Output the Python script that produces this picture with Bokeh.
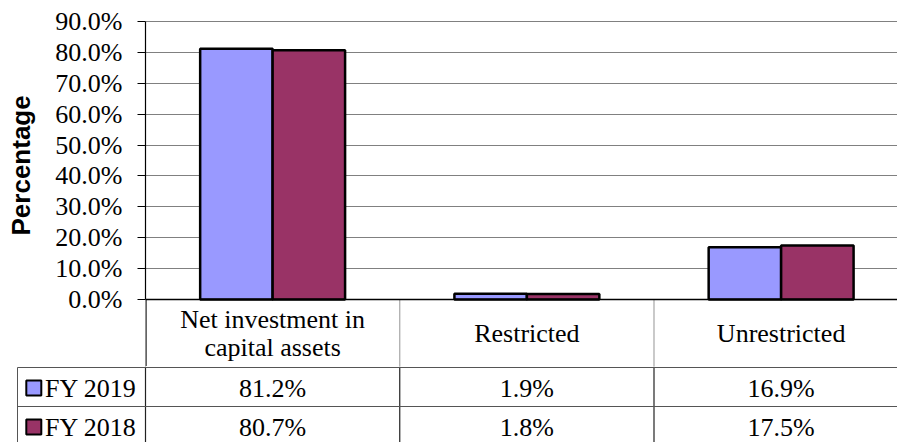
from bokeh.plotting import figure
from bokeh.models import (Range1d, FixedTicker, PrintfTickFormatter, Span, ColumnDataSource,
                          Title, LinearAxis)
from bokeh.embed import file_html
from bokeh.resources import INLINE
from bokeh.core.properties import value

# ---------------- data ----------------
categories = ["Net investment in\ncapital assets", "Restricted", "Unrestricted"]
series_names = ["FY 2019", "FY 2018"]
fy2019 = [81.2, 1.9, 16.9]
fy2018 = [80.7, 1.8, 17.5]
series_values = [fy2019, fy2018]
colors = ["#9999FF", "#993366"]
y_ticks = [0, 10, 20, 30, 40, 50, 60, 70, 80, 90]
y_title = "Percentage"

# ---------------- layout constants (pixels) ----------------
W = 897
LEFT = 145            # chart frame left
BAND = 254.25         # width of one category band in px
PX_PER_PCT = 278 / 90.0
ZERO_Y = 299          # page y of the 0% line
TOP_Y = 20            # page y of the chart frame top
A_H = 366             # chart canvas height (includes the category-label row)
B_H = 442 - A_H       # data-table canvas height
CAT_ROW_CENTER = 333
DATA_ROW_H = 39
BAR_W = 0.285
TITLE_GAP = 17        # extra gap between tick labels and the vertical title
TITLE_BOTTOM = 235    # page y where the vertical title starts

SERIF = "Liberation Serif"
SANS = "Liberation Sans"

def px_to_u(px):
    return (px - LEFT) / BAND

def page_to_pct(py):
    return (ZERO_Y - py) / PX_PER_PCT

x_end = (W - LEFT) / BAND
ncat = len(categories)
n = len(series_names)

# ---------------- chart (with category row) ----------------
p = figure(width=W, height=A_H, output_backend="svg", toolbar_location=None,
           x_range=Range1d(0, x_end),
           y_range=Range1d(page_to_pct(A_H), page_to_pct(TOP_Y)),
           x_axis_location=None,
           min_border_left=LEFT, min_border_right=0, min_border_top=TOP_Y, min_border_bottom=0)
p.outline_line_color = None
p.background_fill_color = "white"
p.border_fill_color = "white"

for s, (name, vals, col) in enumerate(zip(series_names, series_values, colors)):
    xs = [i + 0.5 + (s - (n - 1) / 2) * BAR_W for i in range(ncat)]
    src = ColumnDataSource(dict(x=xs, top=vals))
    p.vbar(x="x", top="top", bottom=0, width=BAR_W, source=src,
           fill_color=col, line_color="black", line_width=2.5)

p.xgrid.visible = False
p.ygrid.ticker = FixedTicker(ticks=y_ticks[1:])
p.ygrid.grid_line_color = "#808080"
p.ygrid.grid_line_width = 1
p.ygrid.level = "underlay"

p.add_layout(Span(location=0, dimension="width", line_color="black", line_width=1.5))

# category separators inside the label row, and the left border continuing below 0
seps = list(range(1, ncat))
p.segment(x0=seps, y0=[0] * len(seps), x1=seps, y1=[page_to_pct(A_H)] * len(seps),
          line_color="#a6a6a6", line_width=1.2)
p.segment(x0=[0], y0=[0], x1=[0], y1=[page_to_pct(A_H)], line_color="#222222", line_width=2.4)

p.text(x=[i + 0.5 for i in range(ncat)], y=[page_to_pct(CAT_ROW_CENTER)] * ncat, text=categories,
       text_font=value(SERIF), text_font_size=value("26px"), text_color="black",
       text_align="center", text_baseline="middle", text_line_height=0.95)

ax = p.yaxis[0]
ax.bounds = (y_ticks[0], y_ticks[-1])
ax.ticker = FixedTicker(ticks=y_ticks)
ax.formatter = PrintfTickFormatter(format="%.1f%%")
ax.major_tick_out = 8
ax.major_tick_in = 0
ax.minor_tick_out = 0
ax.minor_tick_in = 0
ax.axis_line_color = "black"
ax.axis_line_width = 1.2
ax.major_tick_line_color = "black"
ax.major_label_text_font = SERIF
ax.major_label_text_font_size = "26px"
ax.major_label_text_color = "black"
ax.major_label_standoff = 15

# invisible spacer axis (one white tick, no label), then the vertical title
spacer = LinearAxis(ticker=FixedTicker(ticks=[y_ticks[0]]), axis_line_color=None,
                    major_tick_line_color="white", minor_tick_line_color=None,
                    major_tick_out=TITLE_GAP, major_tick_in=0, minor_tick_out=0, minor_tick_in=0,
                    major_label_standoff=0, major_label_overrides={y_ticks[0]: ""})
p.add_layout(spacer, "left")
ttl = Title(text=y_title, align="left", offset=A_H - TITLE_BOTTOM, standoff=0,
            text_font=SANS, text_font_style="bold", text_font_size="26px", text_color="black")
p.add_layout(ttl, "left")

# ---------------- data table rows ----------------
t = figure(width=W, height=B_H, output_backend="svg", toolbar_location=None,
           x_range=Range1d(px_to_u(0), x_end), y_range=Range1d(B_H, 0),
           x_axis_location=None, y_axis_location=None,
           min_border_left=0, min_border_right=0, min_border_top=0, min_border_bottom=0)
t.outline_line_color = None
t.xgrid.visible = False
t.ygrid.visible = False
t.background_fill_color = "white"
t.border_fill_color = "white"

row_tops = [1 + r * DATA_ROW_H for r in range(n)]
legend_left = px_to_u(17)
bottom = B_H + 5

t.segment(x0=[0], y0=[0], x1=[0], y1=[bottom], line_color="#222222", line_width=1.2)
t.segment(x0=seps, y0=[0] * len(seps), x1=seps, y1=[bottom] * len(seps),
          line_color="#222222", line_width=1.2)
t.segment(x0=[legend_left], y0=[row_tops[0]], x1=[legend_left], y1=[bottom],
          line_color="#555555", line_width=1)
t.segment(x0=[legend_left] * n, y0=row_tops, x1=[x_end] * n, y1=row_tops,
          line_color="#555555", line_width=1)

for r, (name, vals, col) in enumerate(zip(series_names, series_values, colors)):
    yc = row_tops[r] + DATA_ROW_H / 2 + 1
    t.text(x=[i + 0.5 for i in range(ncat)], y=[yc] * ncat,
           text=[f"{v:.1f}%" for v in vals],
           text_font=value(SERIF), text_font_size=value("26px"), text_color="black",
           text_align="center", text_baseline="middle")
    t.rect(x=[px_to_u(33.3)], y=[yc], width=15, height=15,
           width_units="screen", height_units="screen",
           fill_color=col, line_color="black", line_width=2)
    t.text(x=[px_to_u(44.5)], y=[yc], text=[name],
           text_font=value(SERIF), text_font_size=value("26px"), text_color="black",
           text_align="left", text_baseline="middle")

open("out.html", "w").write(file_html([p, t], INLINE))
